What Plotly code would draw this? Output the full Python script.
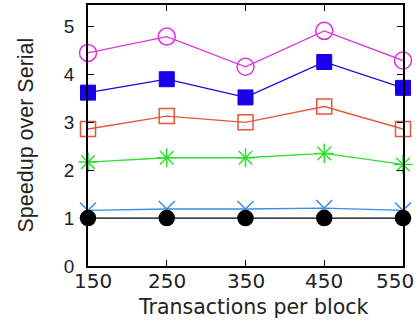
import plotly.graph_objects as go

x_vals = [150, 250, 350, 450, 550]
x_labels = ["150", "250", "350", "450", "550"]
s_magenta = [4.45, 4.79, 4.16, 4.91, 4.29]
s_blue = [3.62, 3.90, 3.52, 4.26, 3.72]
s_orange = [2.86, 3.13, 3.00, 3.33, 2.86]
s_green = [2.17, 2.26, 2.26, 2.35, 2.12]
s_lightblue = [1.16, 1.19, 1.19, 1.21, 1.16]
s_black = [1.0, 1.0, 1.0, 1.0, 1.0]
y_ticks = [0, 1, 2, 3, 4, 5]

fig = go.Figure()

def add(y, color, symbol, size, lw=1.3, mlw=1.5):
    fig.add_trace(go.Scatter(
        x=x_vals, y=y, mode="lines+markers",
        line=dict(color=color, width=lw),
        marker=dict(symbol=symbol, size=size, color=color,
                    line=dict(color=color, width=mlw)),
        showlegend=False, cliponaxis=False))

add(s_lightblue, "#3c8ce0", "x-thin-open", 16, mlw=1.5)
add(s_black, "#000000", "circle", 15)
add(s_green, "#33dd33", "asterisk-open", 16)
add(s_orange, "#e8563a", "square-open", 15)
add(s_blue, "#1a00e8", "square", 15, mlw=1)
add(s_magenta, "#dd33dd", "circle-open", 17)

# x tick labels as annotations (end labels nudged inward like the reference)
shifts = [5, 0, 0, 0, -8]
for xv, lab, sh in zip(x_vals, x_labels, shifts):
    fig.add_annotation(x=xv, y=0, xref="x", yref="paper", text=lab,
                       showarrow=False, xanchor="center", yanchor="top",
                       yshift=-1, xshift=sh,
                       font=dict(size=20, family="DejaVu Sans", color="#222"))

fig.add_annotation(x=(253 - 88) / 315, y=0, xref="paper", yref="paper",
                   text="Transactions per block", showarrow=False,
                   xanchor="center", yanchor="top", yshift=-27,
                   font=dict(size=20.5, family="DejaVu Sans", color="#222"))
fig.add_annotation(x=(25 - 88) / 315, y=0.5, xref="paper", yref="paper",
                   text="Speedup over Serial", showarrow=False, textangle=-90,
                   xanchor="center", yanchor="middle",
                   font=dict(size=21.5, family="Liberation Sans, Arial", color="#222"))

fig.update_layout(
    width=417, height=321,
    margin=dict(l=88, r=14, t=5, b=55),
    plot_bgcolor="white", paper_bgcolor="white",
    font=dict(family="Liberation Sans, Arial", color="#222"),
)
fig.update_xaxes(
    range=[150, 550], tickvals=x_vals, showticklabels=False,
    showgrid=False, zeroline=False, showline=True, linecolor="black", linewidth=1.5,
    mirror="ticks", ticks="inside", ticklen=6, tickcolor="black", automargin=False,
)
fig.update_yaxes(
    range=[0, 5.45], tickvals=y_ticks,
    showgrid=False, zeroline=False, showline=True, linecolor="black", linewidth=1.5,
    mirror="ticks", ticks="inside", ticklen=6, tickcolor="black",
    tickfont=dict(size=19), automargin=False, ticklabelstandoff=8,
)

fig.write_html("out.html", config={"displayModeBar": False},
               post_script="document.body.style.margin='0';document.body.style.overflow='hidden';")
